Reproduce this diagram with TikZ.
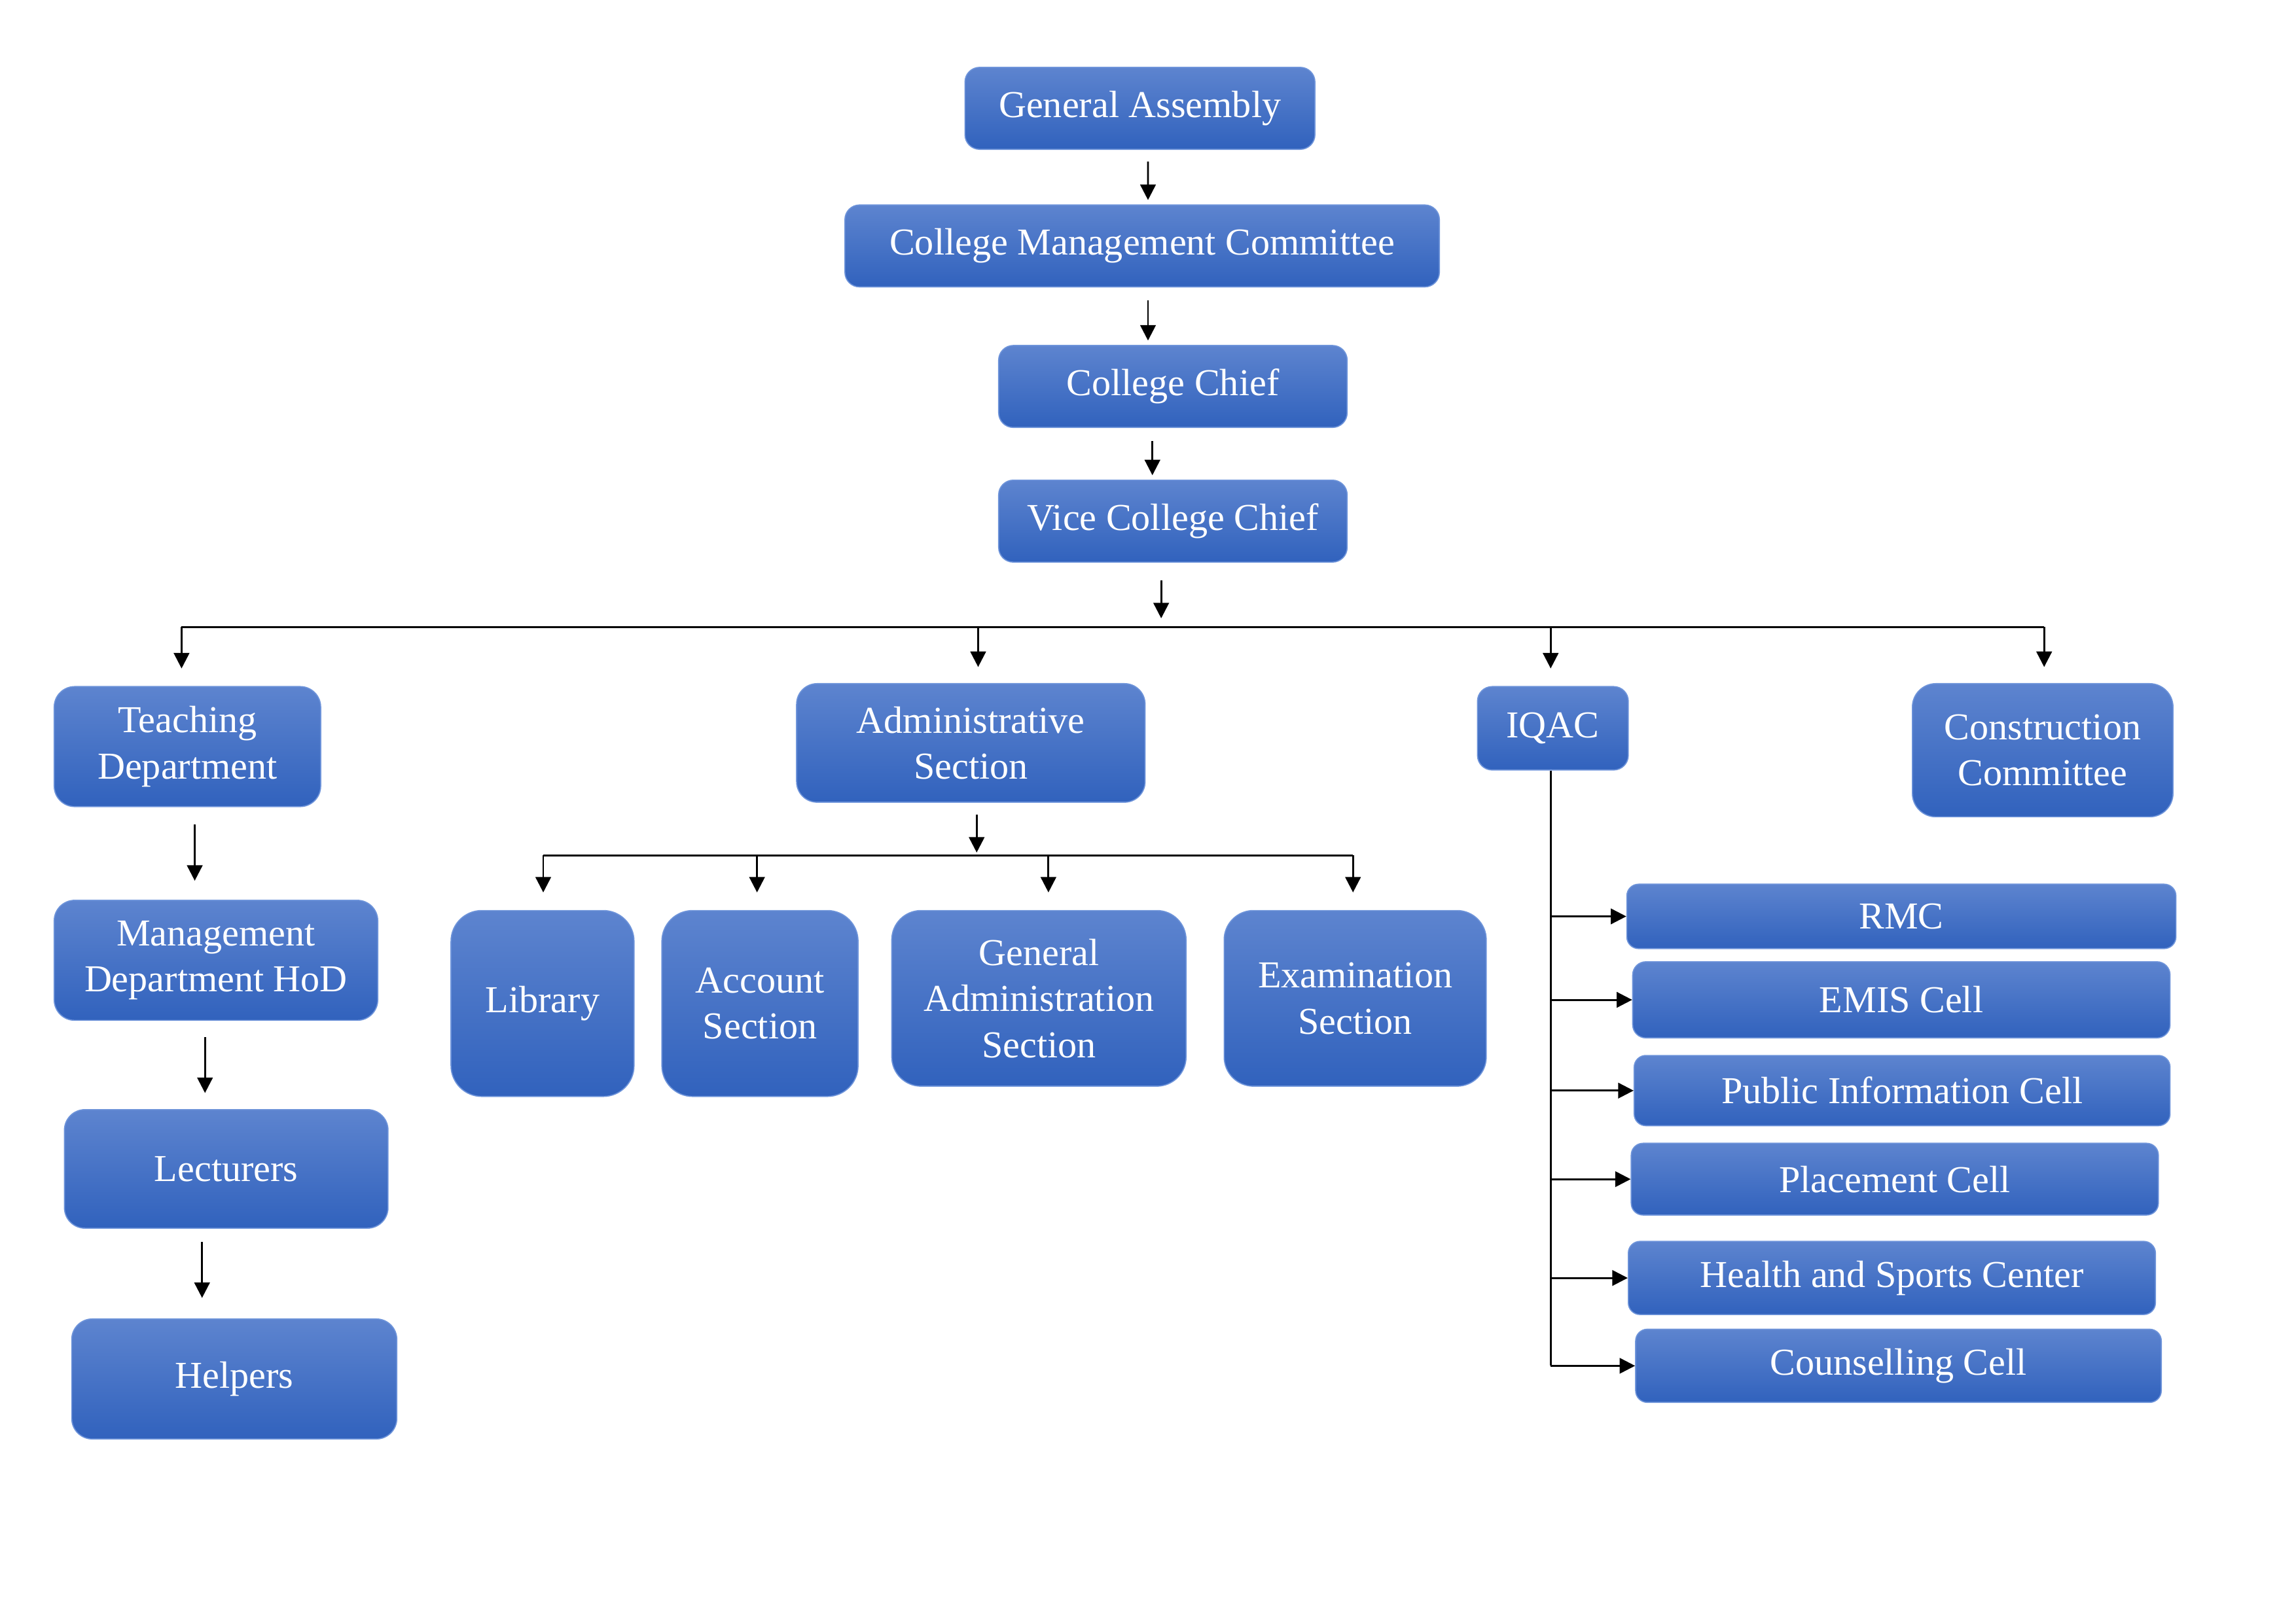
\documentclass[tikz,border=0pt]{standalone}
\usepackage{fontspec}
\setmainfont{Liberation Serif}
\usepackage{tikz}
\usetikzlibrary{arrows.meta,calc}

\newcommand{\pxu}{0.018941cm}
\definecolor{boxtop}{RGB}{93,132,207}
\definecolor{boxbot}{RGB}{49,98,189}
\definecolor{boxline}{RGB}{110,148,218}

\begin{document}
\begin{tikzpicture}[x=\pxu,y=-\pxu,>={Triangle[length=2mm,width=2mm]},line width=0.7pt]
    \tikzstyle{unit}=[rectangle,draw=boxline,line width=0.4pt,top color=boxtop,bottom color=boxbot,text=white,align=center,inner sep=2pt,font=\fontsize{14}{17}\selectfont]
    \tikzset{dim/.style n args={3}{minimum width=#1*\pxu,minimum height=#2*\pxu,rounded corners=#3*\pxu}}
    \useasboundingbox (0,0) rectangle (1568,1109);

    % top of the chain
    \node[unit,dim={239}{56}{10}] (ga)     at (778.5,74)   {General Assembly};
    \node[unit,dim={406}{56}{10}] (cmc)    at (780,168)    {College Management Committee};
    \node[unit,dim={238}{56}{10}] (chief)  at (801,264)    {College Chief};
    \node[unit,dim={238}{56}{10}] (vice)   at (801,356)    {Vice College Chief};

    % second level
    \node[unit,dim={182}{82}{14}] (teach)  at (128,510)    {Teaching\\Department};
    \node[unit,dim={238}{81}{14}] (admin)  at (663,507.5)  {Administrative\\Section};
    \node[unit,dim={103}{57}{10}] (iqac)   at (1060.5,497.5) {IQAC};
    \node[unit,dim={178}{91}{16}] (constr) at (1395,512.5) {Construction\\Committee};

    % teaching column
    \node[unit,dim={221}{82}{14}] (hod)    at (147.5,656)  {Management\\Department HoD};
    \node[unit,dim={221}{81}{14}] (lect)   at (154.5,798.5) {Lecturers};
    \node[unit,dim={222}{82}{14}] (help)   at (160,942)    {Helpers};

    % administrative row
    \node[unit,dim={125}{127}{21}] (lib)   at (370.5,685.5) {Library};
    \node[unit,dim={134}{127}{21}] (acc)   at (519,685.5)  {Account\\Section};
    \node[unit,dim={201}{120}{20}] (gen)   at (709.5,682)  {General\\Administration\\Section};
    \node[unit,dim={179}{120}{20}] (exam)  at (925.5,682)  {Examination\\Section};

    % iqac cells
    \node[unit,dim={375}{44}{8}] (rmc)     at (1298.5,626) {RMC};
    \node[unit,dim={367}{52}{9}] (emis)    at (1298.5,683) {EMIS Cell};
    \node[unit,dim={366}{48}{8}] (pic)     at (1299,745)   {Public Information Cell};
    \node[unit,dim={360}{49}{8}] (place)   at (1294,805.5) {Placement Cell};
    \node[unit,dim={360}{50}{8}] (health)  at (1292,873)   {Health and Sports Center};
    \node[unit,dim={359}{50}{8}] (couns)   at (1296.5,933) {Counselling Cell};

    \draw[->] ($(ga.south)+(5.5,8)$)    -- ($(cmc.north)+(4,-3)$);
    \draw[->] ($(cmc.south)+(4,9)$)     -- ($(chief.north)+(-17,-3)$);
    \draw[->] ($(chief.south)+(-14,9)$) -- ($(vice.north)+(-14,-3)$);

    % main bus
    \coordinate (bus) at ($(vice.south)+(-8,44)$);
    \draw[->] ($(vice.south)+(-8,12)$) -- ($(bus)+(0,-6)$);
    \coordinate (d1) at ($(teach.north)+(-4,-12)$);
    \coordinate (d2) at ($(admin.north)+(5,-11)$);
    \coordinate (d3) at ($(iqac.north)+(-1.5,-12)$);
    \coordinate (d4) at ($(constr.north)+(1,-11)$);
    \draw (d1 |- bus) -- (d4 |- bus);
    \foreach \d in {d1,d2,d3,d4}
        \draw[->] (\d |- bus) -- (\d);

    % admin bus
    \coordinate (bus2) at ($(admin.south)+(4,36)$);
    \draw[->] ($(admin.south)+(4,8)$) -- ($(bus2)+(0,-2)$);
    \coordinate (e1) at ($(lib.north)+(0.5,-12)$);
    \coordinate (e2) at ($(acc.north)+(-2,-12)$);
    \coordinate (e3) at ($(gen.north)+(6.5,-12)$);
    \coordinate (e4) at ($(exam.north)+(-1.5,-12)$);
    \draw (e1 |- bus2) -- (e4 |- bus2);
    \foreach \e in {e1,e2,e3,e4}
        \draw[->] (\e |- bus2) -- (\e);

    % teaching chain
    \draw[->] ($(teach.south)+(5,12)$)  -- ($(hod.north)+(-14.5,-13)$);
    \draw[->] ($(hod.south)+(-7.5,11)$) -- ($(lect.north)+(-14.5,-11)$);
    \draw[->] ($(lect.south)+(-16.5,9)$) -- ($(help.north)+(-22,-14)$);

    % iqac trunk
    \coordinate (trunk) at ($(iqac.south)+(-1.5,0)$);
    \draw (trunk) -- (trunk |- couns.west);
    \foreach \n in {rmc,emis,pic,place,health,couns}
        \draw[->] (trunk |- \n.west) -- (\n.west);
\end{tikzpicture}
\end{document}
